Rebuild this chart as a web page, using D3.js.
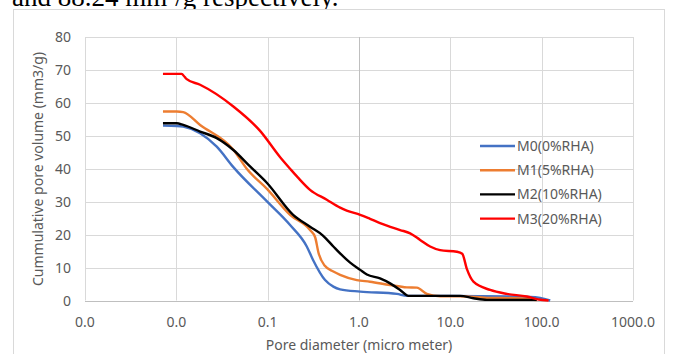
<!DOCTYPE html>
<html>
<head>
<meta charset="utf-8">
<script src="https://cdn.jsdelivr.net/npm/d3@7"></script>
<style>
  html, body { margin: 0; padding: 0; background: #fff; }
  svg { display: block; }
</style>
</head>
<body>
<div id="chart"></div>
<script>
// pore diameter (micro meter) vs cumulative pore volume (mm3/g)
const m0 = [
    [0.00714, 53.1], [0.0101, 53.0], [0.0119, 52.8], [0.0182, 50.8], [0.0277, 46.7],
    [0.0421, 40.5], [0.0989, 30.0], [0.176, 22.9], [0.268, 16.4], [0.314, 12.3],
    [0.425, 6.2], [0.524, 4.2], [0.621, 3.4], [1.03, 2.7], [2.6, 2.0],
    [3.34, 1.4], [9.95, 1.4], [74.8, 1.1], [96.3, 0.8], [124, 0]
];
const m1 = [
    [0.00714, 57.4], [0.0101, 57.4], [0.0119, 57.2], [0.0182, 53.3], [0.0421, 45.8],
    [0.059, 40.0], [0.0989, 33.8], [0.176, 26.0], [0.291, 21.4], [0.331, 19.2],
    [0.36, 14.5], [0.42, 10.6], [0.524, 8.8], [0.621, 7.8], [0.946, 6.2],
    [1.32, 5.7], [2.19, 4.7], [3.34, 4.0], [4.3, 3.9], [5.53, 2.0],
    [7.73, 1.3], [12.8, 1.3], [25.1, 0.8], [53.5, 0.7], [88.5, 0.1]
];
const m2 = [
    [0.00714, 53.8], [0.0101, 53.8], [0.0119, 53.3], [0.0182, 51.3], [0.0277, 49.3],
    [0.0421, 45.7], [0.0641, 40.7], [0.0989, 35.6], [0.19, 26.0], [0.291, 22.4],
    [0.4, 19.8], [0.524, 16.4], [0.621, 14.3], [0.8, 11.5], [1.03, 9.3],
    [1.22, 7.9], [1.7, 6.7], [2.19, 5.2], [2.82, 3.2], [3.48, 1.4],
    [12.8, 1.4], [17.9, 0.7], [25.1, 0.2], [88.5, 0.2]
];
const m3 = [
    [0.00714, 68.8], [0.0114, 68.8], [0.0124, 67.8], [0.013, 67.2], [0.0182, 65.5],
    [0.0421, 58.9], [0.0826, 51.5], [0.137, 43.5], [0.176, 40.0], [0.215, 37.3],
    [0.291, 33.6], [0.444, 30.6], [0.621, 28.2], [0.734, 27.3], [1.03, 26.0],
    [1.32, 24.8], [1.7, 23.5], [2.82, 21.4], [3.63, 20.4], [4.67, 18.4],
    [6.01, 16.4], [7.73, 15.3], [11.8, 14.8], [13.5, 14.2], [15.2, 9.5],
    [17.9, 5.7], [27.3, 3.2], [41.6, 2.0], [68.8, 1.2], [92.2, 0.3],
    [119, 0]
];

const seriesNames = ['M0(0%RHA)', 'M1(5%RHA)', 'M2(10%RHA)', 'M3(20%RHA)'];
const seriesColors = ['#4472C4', '#ED7D31', '#000000', '#FF0000'];
const seriesData = [m0, m1, m2, m3];
const xTicks = [0.001, 0.01, 0.1, 1, 10, 100, 1000];
const yTicks = [0, 10, 20, 30, 40, 50, 60, 70, 80];

const W = 675, H = 354;
const font = '"Noto Sans", sans-serif';
const labelColor = '#595959';

const svg = d3.select('#chart').append('svg')
    .attr('width', W)
    .attr('height', H);

// --- 1. Page text (cut by the top edge, as in the page) + chart frame ---
svg.append('text')
    .attr('x', 12)
    .attr('y', 6)
    .attr('font-family', '"Liberation Serif", "Times New Roman", serif')
    .attr('font-size', '27px')
    .attr('fill', '#000')
    .text('and 88.24 mm³/g respectively.');

svg.append('rect')
    .attr('x', 13.5)
    .attr('y', 9.5)
    .attr('width', 651)
    .attr('height', 360)
    .attr('fill', '#fff')
    .attr('stroke', '#d9d9d9');

// --- 2. Scales ---
const x = d3.scaleLog()
    .domain([0.001, 1000])
    .range([85, 633]);

const y = d3.scaleLinear()
    .domain([0, 80])
    .range([300.5, 37]);

// --- 3. Grid ---
const grid = svg.append('g');

grid.selectAll('line.hgrid')
    .data(yTicks)
    .enter().append('line')
    .attr('class', 'hgrid')
    .attr('x1', x.range()[0]).attr('x2', x.range()[1])
    .attr('y1', d => Math.round(y(d)) + 0.5)
    .attr('y2', d => Math.round(y(d)) + 0.5)
    .attr('stroke', d => d === 0 ? '#bfbfbf' : '#d9d9d9')
    .attr('stroke-width', 1);

grid.selectAll('line.vgrid')
    .data(xTicks)
    .enter().append('line')
    .attr('class', 'vgrid')
    .attr('x1', d => Math.round(x(d)) + 0.5)
    .attr('x2', d => Math.round(x(d)) + 0.5)
    .attr('y1', y(80)).attr('y2', y(0))
    .attr('stroke', d => d === 1 ? '#bfbfbf' : '#d9d9d9')
    .attr('stroke-width', 1);

// --- 4. Axes labels ---
const fmt = d3.format('.1f');

svg.append('g').selectAll('text')
    .data(xTicks)
    .enter().append('text')
    .attr('x', d => x(d))
    .attr('y', 327)
    .attr('text-anchor', 'middle')
    .attr('font-family', font)
    .attr('font-size', '14px')
    .attr('fill', labelColor)
    .text(d => fmt(d));

svg.append('g').selectAll('text')
    .data(yTicks)
    .enter().append('text')
    .attr('x', 71)
    .attr('y', d => y(d) + 5)
    .attr('text-anchor', 'end')
    .attr('font-family', font)
    .attr('font-size', '14px')
    .attr('fill', labelColor)
    .text(d => d);

svg.append('text')
    .attr('x', 359)
    .attr('y', 350)
    .attr('text-anchor', 'middle')
    .attr('font-family', font)
    .attr('font-size', '14px')
    .attr('fill', labelColor)
    .text('Pore diameter (micro meter)');

svg.append('text')
    .attr('transform', 'translate(43,169) rotate(-90)')
    .attr('text-anchor', 'middle')
    .attr('font-family', font)
    .attr('font-size', '14px')
    .attr('fill', labelColor)
    .text('Cummulative pore volume  (mm3/g)');

// --- 5. Lines ---
const line = d3.line()
    .x(d => x(d[0]))
    .y(d => y(d[1]))
    .curve(d3.curveMonotoneX);

svg.append('g').selectAll('path')
    .data(seriesData)
    .enter().append('path')
    .attr('d', d => line(d))
    .attr('fill', 'none')
    .attr('stroke', (d, i) => seriesColors[i])
    .attr('stroke-width', 2.4)
    .attr('stroke-linejoin', 'round');

// --- 6. Legend ---
const legend = svg.append('g').attr('transform', 'translate(480,146)');

seriesNames.forEach((name, i) => {
    const row = legend.append('g').attr('transform', `translate(0,${i * 24.2})`);
    row.append('line')
        .attr('x1', 0).attr('x2', 35)
        .attr('y1', 0).attr('y2', 0)
        .attr('stroke', seriesColors[i])
        .attr('stroke-width', 2.4);
    row.append('text')
        .attr('x', 37)
        .attr('y', 5)
        .attr('font-family', font)
        .attr('font-size', '14px')
        .attr('fill', labelColor)
        .text(name);
});
</script>
</body>
</html>
